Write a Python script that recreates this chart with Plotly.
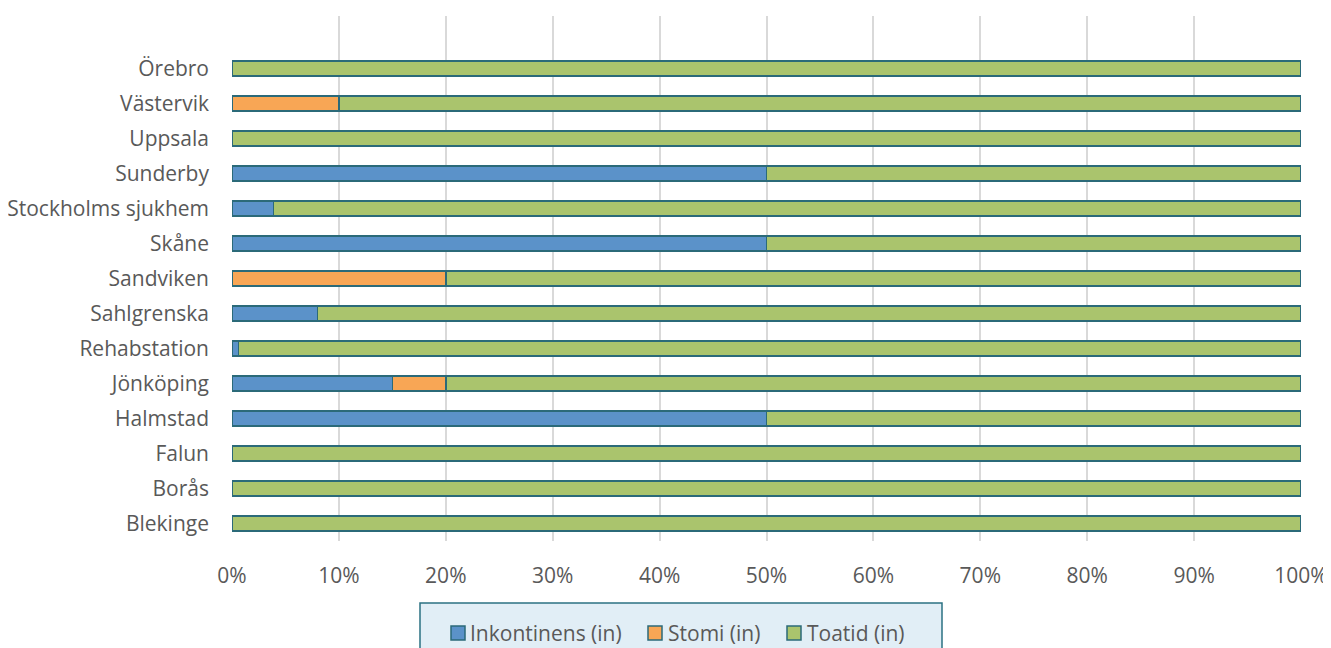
import plotly.graph_objects as go

categories = ["Blekinge", "Borås", "Falun", "Halmstad", "Jönköping", "Rehabstation",
              "Sahlgrenska", "Sandviken", "Skåne", "Stockholms sjukhem", "Sunderby",
              "Uppsala", "Västervik", "Örebro"]
inkontinens = [0, 0, 0, 50, 15, 0.6, 8, 0, 50, 3.9, 50, 0, 0, 0]
stomi = [0, 0, 0, 0, 5, 0, 0, 20, 0, 0, 0, 0, 10, 0]
toatid = [100, 100, 100, 50, 80, 99.4, 92, 80, 50, 96.1, 50, 100, 90, 100]
series_names = ["Inkontinens (in)", "Stomi (in)", "Toatid (in)"]
x_ticks = [0, 10, 20, 30, 40, 50, 60, 70, 80, 90, 100]
x_tick_labels = [f"{v}%" for v in x_ticks]

colors = ["#5B92C9", "#F8A655", "#AAC46D"]
outline = "#2B6A79"
font_family = "'Open Sans', sans-serif"
text_color = "#595959"
fs = 21

# desired plot area in page pixels (page has an 8px body margin)
PL, PR, PT, PB = 232, 1301, 16, 541


def px_x(p):
    return (p - PL) / (PR - PL)


def px_y(p):
    return (PB - p) / (PB - PT)


fig = go.Figure()
for name, vals, col in zip(series_names, [inkontinens, stomi, toatid], colors):
    fig.add_trace(go.Bar(
        y=categories, x=vals, name=name, orientation="h",
        marker=dict(color=col, line=dict(color=outline, width=1.5)),
    ))

# legend box (drawn manually to match the original layout)
fig.add_shape(type="rect", xref="paper", yref="paper",
              x0=px_x(420), x1=px_x(942), y0=px_y(680), y1=px_y(603),
              fillcolor="#E1EEF6", line=dict(color="#2B7182", width=1.5),
              layer="below")
legend_square_x = [451, 648, 787]
legend_text_x = [468, 666, 805]
legend_cy = 633
for name, col, sx, tx in zip(series_names, colors, legend_square_x, legend_text_x):
    fig.add_shape(type="rect", xref="paper", yref="paper",
                  x0=px_x(sx), x1=px_x(sx + 14),
                  y0=px_y(legend_cy + 7), y1=px_y(legend_cy - 7),
                  fillcolor=col, line=dict(color=outline, width=1.5))
    fig.add_annotation(xref="paper", yref="paper", x=px_x(tx), y=px_y(legend_cy),
                       text=name, showarrow=False, xanchor="left", yanchor="middle",
                       font=dict(size=fs, color=text_color, family=font_family))

fig.update_layout(
    barmode="stack",
    bargap=0.57,
    width=1331, height=648,
    margin=dict(l=224, r=38, t=8, b=115, autoexpand=False),
    paper_bgcolor="white",
    plot_bgcolor="white",
    font=dict(family=font_family, size=fs, color=text_color),
    xaxis=dict(
        range=[0, 100], tickvals=x_ticks, ticktext=x_tick_labels,
        showgrid=True, gridcolor="#D9D9D9", gridwidth=1.5,
        zeroline=False, showline=False, ticks="", ticklabelstandoff=20,
        tickfont=dict(size=fs, color=text_color),
        automargin=False, ticklabeloverflow="allow",
    ),
    yaxis=dict(
        categoryorder="array", categoryarray=categories,
        range=[-0.5, 14.5], showgrid=False, zeroline=False,
        showline=False, ticks="", ticklabelstandoff=22,
        tickfont=dict(size=fs, color=text_color),
        automargin=False,
    ),
    showlegend=False,
)

fig.write_html("out.html")
